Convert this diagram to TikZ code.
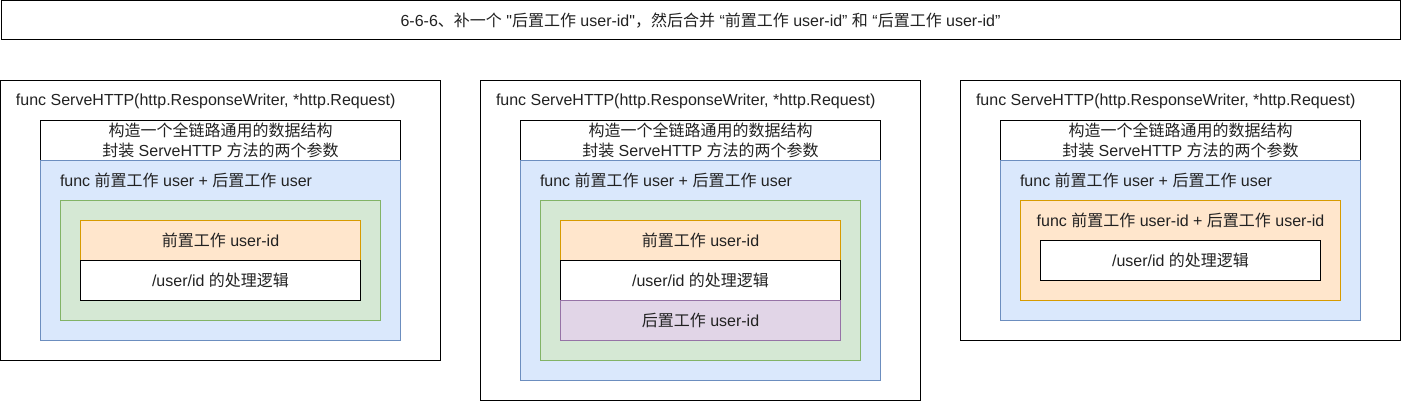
\documentclass[tikz,border=0pt]{standalone}
\usepackage{fontspec}
\setmainfont{Liberation Sans}
\newfontfamily\qfont{Liberation Sans}
\newfontfamily\cjkfont{Noto Sans CJK SC}
\newcommand\zh[1]{{\cjkfont #1}}
\newcommand\sq{{\qfont"}}
\definecolor{txt}{HTML}{222222}
\definecolor{bluefill}{HTML}{DAE8FC}
\definecolor{bluedraw}{HTML}{6C8EBF}
\definecolor{greenfill}{HTML}{D5E8D4}
\definecolor{greendraw}{HTML}{82B366}
\definecolor{orangefill}{HTML}{FFE6CC}
\definecolor{orangedraw}{HTML}{D79B00}
\definecolor{purplefill}{HTML}{E1D5E7}
\definecolor{purpledraw}{HTML}{9673A6}
\begin{document}
\begin{tikzpicture}[x=1pt,y=-1pt,
  every node/.style={font=\fontsize{16}{20}\selectfont, text=txt, inner sep=0pt, outer sep=0pt},
  boxbase/.style={draw, line width=1pt, align=center},
  frame/.style={boxbase, draw=black, fill=white},
  bluebox/.style={boxbase, draw=bluedraw, fill=bluefill},
  greenbox/.style={boxbase, draw=greendraw, fill=greenfill},
  orangebox/.style={boxbase, draw=orangedraw, fill=orangefill},
  purplebox/.style={boxbase, draw=purpledraw, fill=purplefill},
  lbl/.style={anchor=west}]
\useasboundingbox (0,0) rectangle (1402,401);
\fill[white] (0,0) rectangle (1402,401);

% title
\node[frame, minimum width=1399pt, minimum height=39pt] (title) at (700.5,20.5)
  {6-6-6\zh{、补一个} \sq\zh{后置工作} user-id\sq\zh{，然后合并} “\zh{前置工作} user-id” \zh{和} “\zh{后置工作} user-id”};

% ---------- panel 1 ----------
\node[frame, minimum width=440pt, minimum height=280pt] (p1) at (220.5,220.5) {};
\node[lbl] (p1t) at (16,101) {func ServeHTTP(http.ResponseWriter, *http.Request)};
\node[frame, minimum width=360pt, minimum height=40pt] (p1h) at (220.5,140.5)
  {\zh{构造一个全链路通用的数据结构}\\\zh{封装} ServeHTTP \zh{方法的两个参数}};
\node[bluebox, minimum width=360pt, minimum height=180pt] (p1b) at (220.5,250.5) {};
\node[lbl] (p1bt) at (60,180) {func \zh{前置工作} user + \zh{后置工作} user};
\node[greenbox, minimum width=320pt, minimum height=120pt] (p1g) at (220.5,260.5) {};
\node[orangebox, minimum width=280pt, minimum height=40pt] (p1o) at (220.5,240.5) {\zh{前置工作} user-id};
\node[frame, minimum width=280pt, minimum height=40pt] (p1w) at (220.5,280.5) {/user/id \zh{的处理逻辑}};

% ---------- panel 2 ----------
\node[frame, minimum width=440pt, minimum height=320pt] (p2) at (700.5,240.5) {};
\node[lbl] (p2t) at (496,101) {func ServeHTTP(http.ResponseWriter, *http.Request)};
\node[frame, minimum width=360pt, minimum height=40pt] (p2h) at (700.5,140.5)
  {\zh{构造一个全链路通用的数据结构}\\\zh{封装} ServeHTTP \zh{方法的两个参数}};
\node[bluebox, minimum width=360pt, minimum height=220pt] (p2b) at (700.5,270.5) {};
\node[lbl] (p2bt) at (540,180) {func \zh{前置工作} user + \zh{后置工作} user};
\node[greenbox, minimum width=320pt, minimum height=160pt] (p2g) at (700.5,280.5) {};
\node[orangebox, minimum width=280pt, minimum height=40pt] (p2o) at (700.5,240.5) {\zh{前置工作} user-id};
\node[frame, minimum width=280pt, minimum height=40pt] (p2w) at (700.5,280.5) {/user/id \zh{的处理逻辑}};
\node[purplebox, minimum width=280pt, minimum height=40pt] (p2p) at (700.5,320.5) {\zh{后置工作} user-id};

% ---------- panel 3 ----------
\node[frame, minimum width=440pt, minimum height=260pt] (p3) at (1180.5,210.5) {};
\node[lbl] (p3t) at (976,101) {func ServeHTTP(http.ResponseWriter, *http.Request)};
\node[frame, minimum width=360pt, minimum height=40pt] (p3h) at (1180.5,140.5)
  {\zh{构造一个全链路通用的数据结构}\\\zh{封装} ServeHTTP \zh{方法的两个参数}};
\node[bluebox, minimum width=360pt, minimum height=160pt] (p3b) at (1180.5,240.5) {};
\node[lbl] (p3bt) at (1020,180) {func \zh{前置工作} user + \zh{后置工作} user};
\node[orangebox, minimum width=320pt, minimum height=100pt] (p3o) at (1180.5,250.5) {};
\node (p3ot) at (1180.5,220) {func \zh{前置工作} user-id + \zh{后置工作} user-id};
\node[frame, minimum width=280pt, minimum height=40pt] (p3w) at (1180.5,260.5) {/user/id \zh{的处理逻辑}};
\end{tikzpicture}
\end{document}
